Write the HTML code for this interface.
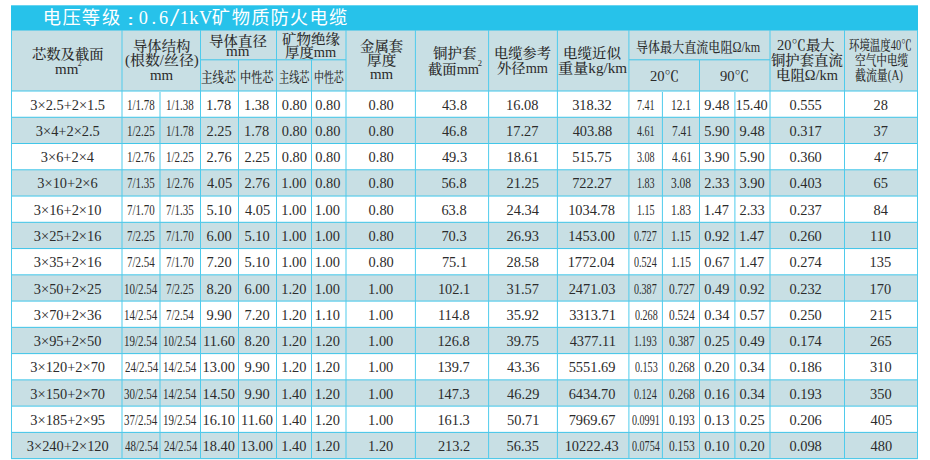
<!DOCTYPE html>
<html><head><meta charset="utf-8"><title>电压等级 0.6/1kV 矿物质防火电缆</title><style>
html,body{margin:0;padding:0;background:#fff;}
body{width:930px;height:460px;overflow:hidden;position:relative;}
.a{position:absolute;}
.p{position:absolute;white-space:nowrap;color:#2b2b2b;transform-origin:0 0;}
</style></head><body>
<div class="a" style="left:11.00px;top:5.00px;width:907.00px;height:1.00px;background:rgba(39,194,234,0.70)"></div>
<div class="a" style="left:11.00px;top:6.00px;width:907.00px;height:24.00px;background:#27c2ea"></div>
<div class="a" style="left:11.00px;top:30.00px;width:907.00px;height:1.00px;background:#77cfe6"></div>
<div class="a" style="left:11.00px;top:31.00px;width:907.00px;height:60.00px;background:#c8dfe4"></div>
<div class="a" style="left:11.00px;top:117.00px;width:907.00px;height:27.00px;background:#c8dfe4"></div>
<div class="a" style="left:11.00px;top:170.00px;width:907.00px;height:26.00px;background:#c8dfe4"></div>
<div class="a" style="left:11.00px;top:222.00px;width:907.00px;height:27.00px;background:#c8dfe4"></div>
<div class="a" style="left:11.00px;top:275.00px;width:907.00px;height:26.00px;background:#c8dfe4"></div>
<div class="a" style="left:11.00px;top:327.00px;width:907.00px;height:27.00px;background:#c8dfe4"></div>
<div class="a" style="left:11.00px;top:380.00px;width:907.00px;height:26.00px;background:#c8dfe4"></div>
<div class="a" style="left:11.00px;top:432.00px;width:907.00px;height:27.00px;background:#c8dfe4"></div>
<div class="a" style="left:11.00px;top:90.00px;width:907.00px;height:1.00px;background:rgba(63,197,233,0.50)"></div>
<div class="a" style="left:11.00px;top:91.00px;width:907.00px;height:1.00px;background:rgba(63,197,233,0.50)"></div>
<div class="a" style="left:11.00px;top:116.00px;width:907.00px;height:1.00px;background:rgba(63,197,233,0.24)"></div>
<div class="a" style="left:11.00px;top:117.00px;width:907.00px;height:1.00px;background:rgba(63,197,233,0.76)"></div>
<div class="a" style="left:11.00px;top:143.00px;width:907.00px;height:1.00px;background:rgba(63,197,233,0.98)"></div>
<div class="a" style="left:11.00px;top:169.00px;width:907.00px;height:1.00px;background:rgba(63,197,233,0.72)"></div>
<div class="a" style="left:11.00px;top:170.00px;width:907.00px;height:1.00px;background:rgba(63,197,233,0.28)"></div>
<div class="a" style="left:11.00px;top:195.00px;width:907.00px;height:1.00px;background:rgba(63,197,233,0.46)"></div>
<div class="a" style="left:11.00px;top:196.00px;width:907.00px;height:1.00px;background:rgba(63,197,233,0.54)"></div>
<div class="a" style="left:11.00px;top:221.00px;width:907.00px;height:1.00px;background:rgba(63,197,233,0.20)"></div>
<div class="a" style="left:11.00px;top:222.00px;width:907.00px;height:1.00px;background:rgba(63,197,233,0.80)"></div>
<div class="a" style="left:11.00px;top:248.00px;width:907.00px;height:1.00px;background:rgba(63,197,233,0.94)"></div>
<div class="a" style="left:11.00px;top:249.00px;width:907.00px;height:1.00px;background:rgba(63,197,233,0.06)"></div>
<div class="a" style="left:11.00px;top:274.00px;width:907.00px;height:1.00px;background:rgba(63,197,233,0.68)"></div>
<div class="a" style="left:11.00px;top:275.00px;width:907.00px;height:1.00px;background:rgba(63,197,233,0.32)"></div>
<div class="a" style="left:11.00px;top:300.00px;width:907.00px;height:1.00px;background:rgba(63,197,233,0.42)"></div>
<div class="a" style="left:11.00px;top:301.00px;width:907.00px;height:1.00px;background:rgba(63,197,233,0.58)"></div>
<div class="a" style="left:11.00px;top:326.00px;width:907.00px;height:1.00px;background:rgba(63,197,233,0.16)"></div>
<div class="a" style="left:11.00px;top:327.00px;width:907.00px;height:1.00px;background:rgba(63,197,233,0.84)"></div>
<div class="a" style="left:11.00px;top:353.00px;width:907.00px;height:1.00px;background:rgba(63,197,233,0.90)"></div>
<div class="a" style="left:11.00px;top:354.00px;width:907.00px;height:1.00px;background:rgba(63,197,233,0.10)"></div>
<div class="a" style="left:11.00px;top:379.00px;width:907.00px;height:1.00px;background:rgba(63,197,233,0.64)"></div>
<div class="a" style="left:11.00px;top:380.00px;width:907.00px;height:1.00px;background:rgba(63,197,233,0.36)"></div>
<div class="a" style="left:11.00px;top:405.00px;width:907.00px;height:1.00px;background:rgba(63,197,233,0.38)"></div>
<div class="a" style="left:11.00px;top:406.00px;width:907.00px;height:1.00px;background:rgba(63,197,233,0.62)"></div>
<div class="a" style="left:11.00px;top:431.00px;width:907.00px;height:1.00px;background:rgba(63,197,233,0.12)"></div>
<div class="a" style="left:11.00px;top:432.00px;width:907.00px;height:1.00px;background:rgba(63,197,233,0.88)"></div>
<div class="a" style="left:11.00px;top:458.00px;width:907.00px;height:1.00px;background:rgba(63,197,233,0.86)"></div>
<div class="a" style="left:11.00px;top:459.00px;width:907.00px;height:1.00px;background:rgba(63,197,233,0.14)"></div>
<div class="a" style="left:200.50px;top:59.00px;width:145.50px;height:1.00px;background:rgba(63,197,233,0.70)"></div>
<div class="a" style="left:200.50px;top:60.00px;width:145.50px;height:1.00px;background:rgba(63,197,233,0.30)"></div>
<div class="a" style="left:628.90px;top:59.00px;width:141.10px;height:1.00px;background:rgba(63,197,233,0.70)"></div>
<div class="a" style="left:628.90px;top:60.00px;width:141.10px;height:1.00px;background:rgba(63,197,233,0.30)"></div>
<div class="a" style="left:11.00px;top:30.00px;width:1.00px;height:429.14px;background:rgba(79,203,236,1.00)"></div>
<div class="a" style="left:121.00px;top:30.00px;width:1.00px;height:429.14px;background:rgba(79,203,236,0.50)"></div>
<div class="a" style="left:122.00px;top:30.00px;width:1.00px;height:429.14px;background:rgba(79,203,236,0.50)"></div>
<div class="a" style="left:159.00px;top:91.50px;width:1.00px;height:367.64px;background:rgba(79,203,236,0.50)"></div>
<div class="a" style="left:160.00px;top:91.50px;width:1.00px;height:367.64px;background:rgba(79,203,236,0.50)"></div>
<div class="a" style="left:200.00px;top:30.00px;width:1.00px;height:429.14px;background:rgba(79,203,236,1.00)"></div>
<div class="a" style="left:238.00px;top:60.30px;width:1.00px;height:398.84px;background:rgba(79,203,236,1.00)"></div>
<div class="a" style="left:276.00px;top:30.00px;width:1.00px;height:429.14px;background:rgba(79,203,236,1.00)"></div>
<div class="a" style="left:311.00px;top:60.30px;width:1.00px;height:398.84px;background:rgba(79,203,236,1.00)"></div>
<div class="a" style="left:345.00px;top:30.00px;width:1.00px;height:429.14px;background:rgba(79,203,236,0.50)"></div>
<div class="a" style="left:346.00px;top:30.00px;width:1.00px;height:429.14px;background:rgba(79,203,236,0.50)"></div>
<div class="a" style="left:414.00px;top:30.00px;width:1.00px;height:429.14px;background:rgba(79,203,236,0.10)"></div>
<div class="a" style="left:415.00px;top:30.00px;width:1.00px;height:429.14px;background:rgba(79,203,236,0.90)"></div>
<div class="a" style="left:488.00px;top:30.00px;width:1.00px;height:429.14px;background:rgba(79,203,236,0.90)"></div>
<div class="a" style="left:489.00px;top:30.00px;width:1.00px;height:429.14px;background:rgba(79,203,236,0.10)"></div>
<div class="a" style="left:556.00px;top:30.00px;width:1.00px;height:429.14px;background:rgba(79,203,236,0.10)"></div>
<div class="a" style="left:557.00px;top:30.00px;width:1.00px;height:429.14px;background:rgba(79,203,236,0.90)"></div>
<div class="a" style="left:628.00px;top:30.00px;width:1.00px;height:429.14px;background:rgba(79,203,236,0.60)"></div>
<div class="a" style="left:629.00px;top:30.00px;width:1.00px;height:429.14px;background:rgba(79,203,236,0.40)"></div>
<div class="a" style="left:661.00px;top:91.50px;width:1.00px;height:367.64px;background:rgba(79,203,236,0.10)"></div>
<div class="a" style="left:662.00px;top:91.50px;width:1.00px;height:367.64px;background:rgba(79,203,236,0.90)"></div>
<div class="a" style="left:699.00px;top:60.30px;width:1.00px;height:398.84px;background:rgba(79,203,236,1.00)"></div>
<div class="a" style="left:734.00px;top:91.50px;width:1.00px;height:367.64px;background:rgba(79,203,236,0.60)"></div>
<div class="a" style="left:735.00px;top:91.50px;width:1.00px;height:367.64px;background:rgba(79,203,236,0.40)"></div>
<div class="a" style="left:769.00px;top:30.00px;width:1.00px;height:429.14px;background:rgba(79,203,236,0.50)"></div>
<div class="a" style="left:770.00px;top:30.00px;width:1.00px;height:429.14px;background:rgba(79,203,236,0.50)"></div>
<div class="a" style="left:844.00px;top:30.00px;width:1.00px;height:429.14px;background:rgba(79,203,236,1.00)"></div>
<div class="a" style="left:917.00px;top:30.00px;width:1.00px;height:429.14px;background:rgba(79,203,236,1.00)"></div>
<div class='p' style="left:42.85px;top:3px;font-family:'Noto Sans CJK SC',sans-serif;font-size:18.3px;line-height:27px;color:#fff">电</div>
<div class='p' style="left:62.55px;top:3px;font-family:'Noto Sans CJK SC',sans-serif;font-size:18.3px;line-height:27px;color:#fff">压</div>
<div class='p' style="left:81.85px;top:3px;font-family:'Noto Sans CJK SC',sans-serif;font-size:18.3px;line-height:27px;color:#fff">等</div>
<div class='p' style="left:101.95px;top:3px;font-family:'Noto Sans CJK SC',sans-serif;font-size:18.3px;line-height:27px;color:#fff">级</div>
<div class='p' style="left:138.85px;top:5px;font-family:'Liberation Serif',serif;font-size:18.3px;line-height:27px;color:#fff">0</div>
<div class='p' style="left:151.50px;top:5px;font-family:'Liberation Serif',serif;font-size:18.3px;line-height:27px;color:#fff">.</div>
<div class='p' style="left:159.10px;top:5px;font-family:'Liberation Serif',serif;font-size:18.3px;line-height:27px;color:#fff">6</div>
<div class='p' style="left:169.55px;top:0px;font-family:'Liberation Serif',serif;font-size:18.3px;line-height:27px;transform:scale(1.8200,1.3615);color:#fff">/</div>
<div class='p' style="left:179.85px;top:5px;font-family:'Liberation Serif',serif;font-size:18.3px;line-height:27px;color:#fff">1</div>
<div class='p' style="left:189.35px;top:5px;font-family:'Liberation Serif',serif;font-size:18.3px;line-height:27px;color:#fff">k</div>
<div class='p' style="left:199.10px;top:5px;font-family:'Liberation Serif',serif;font-size:18.3px;line-height:27px;color:#fff">V</div>
<div class='p' style="left:211.65px;top:3px;font-family:'Noto Sans CJK SC',sans-serif;font-size:18.3px;line-height:27px;color:#fff">矿</div>
<div class='p' style="left:231.65px;top:3px;font-family:'Noto Sans CJK SC',sans-serif;font-size:18.3px;line-height:27px;color:#fff">物</div>
<div class='p' style="left:251.25px;top:3px;font-family:'Noto Sans CJK SC',sans-serif;font-size:18.3px;line-height:27px;color:#fff">质</div>
<div class='p' style="left:270.40px;top:3px;font-family:'Noto Sans CJK SC',sans-serif;font-size:18.3px;line-height:27px;color:#fff">防</div>
<div class='p' style="left:289.70px;top:3px;font-family:'Noto Sans CJK SC',sans-serif;font-size:18.3px;line-height:27px;color:#fff">火</div>
<div class='p' style="left:309.50px;top:3px;font-family:'Noto Sans CJK SC',sans-serif;font-size:18.3px;line-height:27px;color:#fff">电</div>
<div class='p' style="left:329.10px;top:3px;font-family:'Noto Sans CJK SC',sans-serif;font-size:18.3px;line-height:27px;color:#fff">缆</div>
<div class='p' style="left:127.10px;top:10px;font-family:'Liberation Serif',serif;font-size:24px;line-height:30px;transform:scale(1.0667,0.6636);color:#fff">:</div>
<div class='p' style="left:31.75px;top:45px;font-family:'Liberation Serif','Noto Serif CJK SC',serif;font-size:14px;line-height:20px;font-weight:500;transform:scale(1.0221,1.0000)">芯数及截面</div>
<div class='p' style="left:54.60px;top:60px;font-family:'Liberation Serif','Noto Serif CJK SC',serif;font-size:14px;line-height:20px;font-weight:500;transform:scale(1.0700,1.0000)">mm</div>
<div class='p' style="left:133.35px;top:37px;font-family:'Liberation Serif','Noto Serif CJK SC',serif;font-size:14px;line-height:20px;font-weight:500;transform:scale(1.0241,1.0000)">导体结构</div>
<div class='p' style="left:124.65px;top:51px;font-family:'Liberation Serif','Noto Serif CJK SC',serif;font-size:14px;line-height:20px;font-weight:500;transform:scale(1.0662,1.0000)">(根数/丝径)</div>
<div class='p' style="left:150.15px;top:66px;font-family:'Liberation Serif','Noto Serif CJK SC',serif;font-size:14px;line-height:20px;font-weight:500;transform:scale(1.0650,1.0000)">mm</div>
<div class='p' style="left:208.85px;top:32px;font-family:'Liberation Serif','Noto Serif CJK SC',serif;font-size:14px;line-height:20px;font-weight:500;transform:scale(1.0352,1.0000)">导体直径</div>
<div class='p' style="left:225.85px;top:42px;font-family:'Liberation Serif','Noto Serif CJK SC',serif;font-size:14px;line-height:20px;font-weight:500;transform:scale(1.0750,1.0000)">mm</div>
<div class='p' style="left:282.00px;top:30px;font-family:'Liberation Serif','Noto Serif CJK SC',serif;font-size:14px;line-height:20px;font-weight:500;transform:scale(1.0370,1.0000)">矿物绝缘</div>
<div class='p' style="left:285.20px;top:43px;font-family:'Liberation Serif','Noto Serif CJK SC',serif;font-size:14px;line-height:20px;font-weight:500;transform:scale(1.0292,1.0000)">厚度mm</div>
<div class='p' style="left:200.95px;top:68px;font-family:'Liberation Serif','Noto Serif CJK SC',serif;font-size:14px;line-height:20px;font-weight:500;transform:scale(0.8275,1.0000)">主线芯</div>
<div class='p' style="left:239.90px;top:68px;font-family:'Liberation Serif','Noto Serif CJK SC',serif;font-size:14px;line-height:20px;font-weight:500;transform:scale(0.7950,1.0000)">中性芯</div>
<div class='p' style="left:278.60px;top:68px;font-family:'Liberation Serif','Noto Serif CJK SC',serif;font-size:14px;line-height:20px;font-weight:500;transform:scale(0.7250,1.0000)">主线芯</div>
<div class='p' style="left:314.05px;top:68px;font-family:'Liberation Serif','Noto Serif CJK SC',serif;font-size:14px;line-height:20px;font-weight:500;transform:scale(0.7075,1.0000)">中性芯</div>
<div class='p' style="left:359.95px;top:37px;font-family:'Liberation Serif','Noto Serif CJK SC',serif;font-size:14px;line-height:20px;font-weight:500;transform:scale(1.0275,1.0000)">金属套</div>
<div class='p' style="left:366.70px;top:51px;font-family:'Liberation Serif','Noto Serif CJK SC',serif;font-size:14px;line-height:20px;font-weight:500;transform:scale(1.0462,1.0000)">厚度</div>
<div class='p' style="left:369.95px;top:65px;font-family:'Liberation Serif','Noto Serif CJK SC',serif;font-size:14px;line-height:20px;font-weight:500;transform:scale(1.0650,1.0000)">mm</div>
<div class='p' style="left:432.75px;top:44px;font-family:'Liberation Serif','Noto Serif CJK SC',serif;font-size:14px;line-height:20px;font-weight:500;transform:scale(1.0325,1.0000)">铜护套</div>
<div class='p' style="left:427.55px;top:60px;font-family:'Liberation Serif','Noto Serif CJK SC',serif;font-size:14px;line-height:20px;font-weight:500;transform:scale(1.0229,1.0000)">截面mm</div>
<div class='p' style="left:493.85px;top:44px;font-family:'Liberation Serif','Noto Serif CJK SC',serif;font-size:14px;line-height:20px;font-weight:500;transform:scale(1.0170,1.0000)">电缆参考</div>
<div class='p' style="left:497.15px;top:59px;font-family:'Liberation Serif','Noto Serif CJK SC',serif;font-size:14px;line-height:20px;font-weight:500;transform:scale(1.0229,1.0000)">外径mm</div>
<div class='p' style="left:563.30px;top:44px;font-family:'Liberation Serif','Noto Serif CJK SC',serif;font-size:14px;line-height:20px;font-weight:500;transform:scale(1.0340,1.0000)">电缆近似</div>
<div class='p' style="left:558.35px;top:59px;font-family:'Liberation Serif','Noto Serif CJK SC',serif;font-size:14px;line-height:20px;font-weight:500;transform:scale(1.0823,1.0000)">重量kg/km</div>
<div class='p' style="left:636.20px;top:38px;font-family:'Liberation Serif','Noto Serif CJK SC',serif;font-size:14px;line-height:20px;font-weight:500;transform:scale(0.8615,1.0000)">导体最大直流电阻Ω/km</div>
<div class='p' style="left:649.65px;top:67px;font-family:'Liberation Serif','Noto Serif CJK SC',serif;font-size:14px;line-height:20px;font-weight:500;transform:scale(1.0423,1.0000)">20℃</div>
<div class='p' style="left:720.05px;top:67px;font-family:'Liberation Serif','Noto Serif CJK SC',serif;font-size:14px;line-height:20px;font-weight:500;transform:scale(1.0423,1.0000)">90℃</div>
<div class='p' style="left:777.25px;top:36px;font-family:'Liberation Serif','Noto Serif CJK SC',serif;font-size:14px;line-height:20px;font-weight:500;transform:scale(1.0315,1.0000)">20℃最大</div>
<div class='p' style="left:770.50px;top:51px;font-family:'Liberation Serif','Noto Serif CJK SC',serif;font-size:14px;line-height:20px;font-weight:500;transform:scale(1.0265,1.0000)">铜护套直流</div>
<div class='p' style="left:775.60px;top:66px;font-family:'Liberation Serif','Noto Serif CJK SC',serif;font-size:14px;line-height:20px;font-weight:500;transform:scale(1.0276,1.0000)">电阻Ω/km</div>
<div class='p' style="left:849.15px;top:36px;font-family:'Liberation Serif','Noto Serif CJK SC',serif;font-size:14px;line-height:20px;font-weight:500;transform:scale(0.7451,1.0000)">环境温度40℃</div>
<div class='p' style="left:854.55px;top:51px;font-family:'Liberation Serif','Noto Serif CJK SC',serif;font-size:14px;line-height:20px;font-weight:500;transform:scale(0.7603,1.0000)">空气中电缆</div>
<div class='p' style="left:855.20px;top:66px;font-family:'Liberation Serif','Noto Serif CJK SC',serif;font-size:14px;line-height:20px;font-weight:500;transform:scale(0.7800,1.0000)">截流量(A)</div>
<div class='p' style="left:77.75px;top:59px;font-family:'Liberation Serif',serif;font-size:8px;line-height:10px">2</div>
<div class='p' style="left:477.65px;top:58px;font-family:'Liberation Serif',serif;font-size:8.5px;line-height:10px">2</div>
<div class='p' style="left:30.35px;top:95px;font-family:'Liberation Serif',serif;font-size:14.4px;line-height:20px">3×2.5+2×1.5</div>
<div class='p' style="left:126.50px;top:95px;font-family:'Liberation Serif',serif;font-size:14.4px;line-height:20px;transform:scale(0.7600,1.0000)">1/1.78</div>
<div class='p' style="left:165.75px;top:95px;font-family:'Liberation Serif',serif;font-size:14.4px;line-height:20px;transform:scale(0.7600,1.0000)">1/1.38</div>
<div class='p' style="left:206.00px;top:95px;font-family:'Liberation Serif',serif;font-size:14.4px;line-height:20px">1.78</div>
<div class='p' style="left:244.00px;top:95px;font-family:'Liberation Serif',serif;font-size:14.4px;line-height:20px">1.38</div>
<div class='p' style="left:281.80px;top:95px;font-family:'Liberation Serif',serif;font-size:14.4px;line-height:20px">0.80</div>
<div class='p' style="left:315.25px;top:95px;font-family:'Liberation Serif',serif;font-size:14.4px;line-height:20px">0.80</div>
<div class='p' style="left:368.60px;top:95px;font-family:'Liberation Serif',serif;font-size:14.4px;line-height:20px">0.80</div>
<div class='p' style="left:441.90px;top:95px;font-family:'Liberation Serif',serif;font-size:14.4px;line-height:20px">43.8</div>
<div class='p' style="left:506.00px;top:95px;font-family:'Liberation Serif',serif;font-size:14.4px;line-height:20px">16.08</div>
<div class='p' style="left:572.15px;top:95px;font-family:'Liberation Serif',serif;font-size:14.4px;line-height:20px">318.32</div>
<div class='p' style="left:636.65px;top:95px;font-family:'Liberation Serif',serif;font-size:14.4px;line-height:20px;transform:scale(0.7000,1.0000)">7.41</div>
<div class='p' style="left:671.35px;top:95px;font-family:'Liberation Serif',serif;font-size:14.4px;line-height:20px;transform:scale(0.7950,1.0000)">12.1</div>
<div class='p' style="left:704.20px;top:95px;font-family:'Liberation Serif',serif;font-size:14.4px;line-height:20px">9.48</div>
<div class='p' style="left:735.45px;top:95px;font-family:'Liberation Serif',serif;font-size:14.4px;line-height:20px">15.40</div>
<div class='p' style="left:789.45px;top:95px;font-family:'Liberation Serif',serif;font-size:14.4px;line-height:20px">0.555</div>
<div class='p' style="left:873.50px;top:95px;font-family:'Liberation Serif',serif;font-size:14.4px;line-height:20px">28</div>
<div class='p' style="left:35.85px;top:121px;font-family:'Liberation Serif',serif;font-size:14.4px;line-height:20px">3×4+2×2.5</div>
<div class='p' style="left:126.50px;top:121px;font-family:'Liberation Serif',serif;font-size:14.4px;line-height:20px;transform:scale(0.7600,1.0000)">1/2.25</div>
<div class='p' style="left:165.75px;top:121px;font-family:'Liberation Serif',serif;font-size:14.4px;line-height:20px;transform:scale(0.7600,1.0000)">1/1.78</div>
<div class='p' style="left:206.50px;top:121px;font-family:'Liberation Serif',serif;font-size:14.4px;line-height:20px">2.25</div>
<div class='p' style="left:244.00px;top:121px;font-family:'Liberation Serif',serif;font-size:14.4px;line-height:20px">1.78</div>
<div class='p' style="left:281.80px;top:121px;font-family:'Liberation Serif',serif;font-size:14.4px;line-height:20px">0.80</div>
<div class='p' style="left:315.25px;top:121px;font-family:'Liberation Serif',serif;font-size:14.4px;line-height:20px">0.80</div>
<div class='p' style="left:368.60px;top:121px;font-family:'Liberation Serif',serif;font-size:14.4px;line-height:20px">0.80</div>
<div class='p' style="left:441.90px;top:121px;font-family:'Liberation Serif',serif;font-size:14.4px;line-height:20px">46.8</div>
<div class='p' style="left:506.00px;top:121px;font-family:'Liberation Serif',serif;font-size:14.4px;line-height:20px">17.27</div>
<div class='p' style="left:572.65px;top:121px;font-family:'Liberation Serif',serif;font-size:14.4px;line-height:20px">403.88</div>
<div class='p' style="left:637.15px;top:121px;font-family:'Liberation Serif',serif;font-size:14.4px;line-height:20px;transform:scale(0.7000,1.0000)">4.61</div>
<div class='p' style="left:671.85px;top:121px;font-family:'Liberation Serif',serif;font-size:14.4px;line-height:20px;transform:scale(0.7950,1.0000)">7.41</div>
<div class='p' style="left:704.20px;top:121px;font-family:'Liberation Serif',serif;font-size:14.4px;line-height:20px">5.90</div>
<div class='p' style="left:739.45px;top:121px;font-family:'Liberation Serif',serif;font-size:14.4px;line-height:20px">9.48</div>
<div class='p' style="left:789.45px;top:121px;font-family:'Liberation Serif',serif;font-size:14.4px;line-height:20px">0.317</div>
<div class='p' style="left:873.50px;top:121px;font-family:'Liberation Serif',serif;font-size:14.4px;line-height:20px">37</div>
<div class='p' style="left:40.85px;top:147px;font-family:'Liberation Serif',serif;font-size:14.4px;line-height:20px">3×6+2×4</div>
<div class='p' style="left:126.50px;top:147px;font-family:'Liberation Serif',serif;font-size:14.4px;line-height:20px;transform:scale(0.7600,1.0000)">1/2.76</div>
<div class='p' style="left:165.75px;top:147px;font-family:'Liberation Serif',serif;font-size:14.4px;line-height:20px;transform:scale(0.7600,1.0000)">1/2.25</div>
<div class='p' style="left:206.50px;top:147px;font-family:'Liberation Serif',serif;font-size:14.4px;line-height:20px">2.76</div>
<div class='p' style="left:244.50px;top:147px;font-family:'Liberation Serif',serif;font-size:14.4px;line-height:20px">2.25</div>
<div class='p' style="left:281.80px;top:147px;font-family:'Liberation Serif',serif;font-size:14.4px;line-height:20px">0.80</div>
<div class='p' style="left:315.25px;top:147px;font-family:'Liberation Serif',serif;font-size:14.4px;line-height:20px">0.80</div>
<div class='p' style="left:368.60px;top:147px;font-family:'Liberation Serif',serif;font-size:14.4px;line-height:20px">0.80</div>
<div class='p' style="left:441.90px;top:147px;font-family:'Liberation Serif',serif;font-size:14.4px;line-height:20px">49.3</div>
<div class='p' style="left:506.50px;top:147px;font-family:'Liberation Serif',serif;font-size:14.4px;line-height:20px">18.61</div>
<div class='p' style="left:572.15px;top:147px;font-family:'Liberation Serif',serif;font-size:14.4px;line-height:20px">515.75</div>
<div class='p' style="left:636.65px;top:147px;font-family:'Liberation Serif',serif;font-size:14.4px;line-height:20px;transform:scale(0.7000,1.0000)">3.08</div>
<div class='p' style="left:672.35px;top:147px;font-family:'Liberation Serif',serif;font-size:14.4px;line-height:20px;transform:scale(0.7950,1.0000)">4.61</div>
<div class='p' style="left:704.20px;top:147px;font-family:'Liberation Serif',serif;font-size:14.4px;line-height:20px">3.90</div>
<div class='p' style="left:739.45px;top:147px;font-family:'Liberation Serif',serif;font-size:14.4px;line-height:20px">5.90</div>
<div class='p' style="left:789.45px;top:147px;font-family:'Liberation Serif',serif;font-size:14.4px;line-height:20px">0.360</div>
<div class='p' style="left:874.00px;top:147px;font-family:'Liberation Serif',serif;font-size:14.4px;line-height:20px">47</div>
<div class='p' style="left:37.35px;top:173px;font-family:'Liberation Serif',serif;font-size:14.4px;line-height:20px">3×10+2×6</div>
<div class='p' style="left:127.00px;top:173px;font-family:'Liberation Serif',serif;font-size:14.4px;line-height:20px;transform:scale(0.7600,1.0000)">7/1.35</div>
<div class='p' style="left:165.75px;top:173px;font-family:'Liberation Serif',serif;font-size:14.4px;line-height:20px;transform:scale(0.7600,1.0000)">1/2.76</div>
<div class='p' style="left:207.00px;top:173px;font-family:'Liberation Serif',serif;font-size:14.4px;line-height:20px">4.05</div>
<div class='p' style="left:244.50px;top:173px;font-family:'Liberation Serif',serif;font-size:14.4px;line-height:20px">2.76</div>
<div class='p' style="left:281.30px;top:173px;font-family:'Liberation Serif',serif;font-size:14.4px;line-height:20px">1.00</div>
<div class='p' style="left:315.25px;top:173px;font-family:'Liberation Serif',serif;font-size:14.4px;line-height:20px">0.80</div>
<div class='p' style="left:368.60px;top:173px;font-family:'Liberation Serif',serif;font-size:14.4px;line-height:20px">0.80</div>
<div class='p' style="left:441.40px;top:173px;font-family:'Liberation Serif',serif;font-size:14.4px;line-height:20px">56.8</div>
<div class='p' style="left:506.50px;top:173px;font-family:'Liberation Serif',serif;font-size:14.4px;line-height:20px">21.25</div>
<div class='p' style="left:572.15px;top:173px;font-family:'Liberation Serif',serif;font-size:14.4px;line-height:20px">722.27</div>
<div class='p' style="left:636.65px;top:173px;font-family:'Liberation Serif',serif;font-size:14.4px;line-height:20px;transform:scale(0.7000,1.0000)">1.83</div>
<div class='p' style="left:671.35px;top:173px;font-family:'Liberation Serif',serif;font-size:14.4px;line-height:20px;transform:scale(0.7950,1.0000)">3.08</div>
<div class='p' style="left:704.20px;top:173px;font-family:'Liberation Serif',serif;font-size:14.4px;line-height:20px">2.33</div>
<div class='p' style="left:739.45px;top:173px;font-family:'Liberation Serif',serif;font-size:14.4px;line-height:20px">3.90</div>
<div class='p' style="left:789.45px;top:173px;font-family:'Liberation Serif',serif;font-size:14.4px;line-height:20px">0.403</div>
<div class='p' style="left:873.50px;top:173px;font-family:'Liberation Serif',serif;font-size:14.4px;line-height:20px">65</div>
<div class='p' style="left:33.85px;top:200px;font-family:'Liberation Serif',serif;font-size:14.4px;line-height:20px">3×16+2×10</div>
<div class='p' style="left:127.00px;top:200px;font-family:'Liberation Serif',serif;font-size:14.4px;line-height:20px;transform:scale(0.7600,1.0000)">7/1.70</div>
<div class='p' style="left:166.25px;top:200px;font-family:'Liberation Serif',serif;font-size:14.4px;line-height:20px;transform:scale(0.7600,1.0000)">7/1.35</div>
<div class='p' style="left:206.50px;top:200px;font-family:'Liberation Serif',serif;font-size:14.4px;line-height:20px">5.10</div>
<div class='p' style="left:245.00px;top:200px;font-family:'Liberation Serif',serif;font-size:14.4px;line-height:20px">4.05</div>
<div class='p' style="left:281.30px;top:200px;font-family:'Liberation Serif',serif;font-size:14.4px;line-height:20px">1.00</div>
<div class='p' style="left:314.75px;top:200px;font-family:'Liberation Serif',serif;font-size:14.4px;line-height:20px">1.00</div>
<div class='p' style="left:368.60px;top:200px;font-family:'Liberation Serif',serif;font-size:14.4px;line-height:20px">0.80</div>
<div class='p' style="left:441.40px;top:200px;font-family:'Liberation Serif',serif;font-size:14.4px;line-height:20px">63.8</div>
<div class='p' style="left:506.50px;top:200px;font-family:'Liberation Serif',serif;font-size:14.4px;line-height:20px">24.34</div>
<div class='p' style="left:568.15px;top:200px;font-family:'Liberation Serif',serif;font-size:14.4px;line-height:20px">1034.78</div>
<div class='p' style="left:636.65px;top:200px;font-family:'Liberation Serif',serif;font-size:14.4px;line-height:20px;transform:scale(0.7000,1.0000)">1.15</div>
<div class='p' style="left:670.85px;top:200px;font-family:'Liberation Serif',serif;font-size:14.4px;line-height:20px;transform:scale(0.7950,1.0000)">1.83</div>
<div class='p' style="left:703.70px;top:200px;font-family:'Liberation Serif',serif;font-size:14.4px;line-height:20px">1.47</div>
<div class='p' style="left:739.45px;top:200px;font-family:'Liberation Serif',serif;font-size:14.4px;line-height:20px">2.33</div>
<div class='p' style="left:789.45px;top:200px;font-family:'Liberation Serif',serif;font-size:14.4px;line-height:20px">0.237</div>
<div class='p' style="left:873.50px;top:200px;font-family:'Liberation Serif',serif;font-size:14.4px;line-height:20px">84</div>
<div class='p' style="left:33.85px;top:226px;font-family:'Liberation Serif',serif;font-size:14.4px;line-height:20px">3×25+2×16</div>
<div class='p' style="left:127.00px;top:226px;font-family:'Liberation Serif',serif;font-size:14.4px;line-height:20px;transform:scale(0.7600,1.0000)">7/2.25</div>
<div class='p' style="left:166.25px;top:226px;font-family:'Liberation Serif',serif;font-size:14.4px;line-height:20px;transform:scale(0.7600,1.0000)">7/1.70</div>
<div class='p' style="left:206.50px;top:226px;font-family:'Liberation Serif',serif;font-size:14.4px;line-height:20px">6.00</div>
<div class='p' style="left:244.50px;top:226px;font-family:'Liberation Serif',serif;font-size:14.4px;line-height:20px">5.10</div>
<div class='p' style="left:281.30px;top:226px;font-family:'Liberation Serif',serif;font-size:14.4px;line-height:20px">1.00</div>
<div class='p' style="left:314.75px;top:226px;font-family:'Liberation Serif',serif;font-size:14.4px;line-height:20px">1.00</div>
<div class='p' style="left:368.60px;top:226px;font-family:'Liberation Serif',serif;font-size:14.4px;line-height:20px">0.80</div>
<div class='p' style="left:441.40px;top:226px;font-family:'Liberation Serif',serif;font-size:14.4px;line-height:20px">70.3</div>
<div class='p' style="left:506.50px;top:226px;font-family:'Liberation Serif',serif;font-size:14.4px;line-height:20px">26.93</div>
<div class='p' style="left:568.15px;top:226px;font-family:'Liberation Serif',serif;font-size:14.4px;line-height:20px">1453.00</div>
<div class='p' style="left:634.15px;top:226px;font-family:'Liberation Serif',serif;font-size:14.4px;line-height:20px;transform:scale(0.7000,1.0000)">0.727</div>
<div class='p' style="left:670.85px;top:226px;font-family:'Liberation Serif',serif;font-size:14.4px;line-height:20px;transform:scale(0.7950,1.0000)">1.15</div>
<div class='p' style="left:704.20px;top:226px;font-family:'Liberation Serif',serif;font-size:14.4px;line-height:20px">0.92</div>
<div class='p' style="left:738.95px;top:226px;font-family:'Liberation Serif',serif;font-size:14.4px;line-height:20px">1.47</div>
<div class='p' style="left:789.45px;top:226px;font-family:'Liberation Serif',serif;font-size:14.4px;line-height:20px">0.260</div>
<div class='p' style="left:870.00px;top:226px;font-family:'Liberation Serif',serif;font-size:14.4px;line-height:20px">110</div>
<div class='p' style="left:33.85px;top:252px;font-family:'Liberation Serif',serif;font-size:14.4px;line-height:20px">3×35+2×16</div>
<div class='p' style="left:126.50px;top:252px;font-family:'Liberation Serif',serif;font-size:14.4px;line-height:20px;transform:scale(0.7600,1.0000)">7/2.54</div>
<div class='p' style="left:166.25px;top:252px;font-family:'Liberation Serif',serif;font-size:14.4px;line-height:20px;transform:scale(0.7600,1.0000)">7/1.70</div>
<div class='p' style="left:206.50px;top:252px;font-family:'Liberation Serif',serif;font-size:14.4px;line-height:20px">7.20</div>
<div class='p' style="left:244.50px;top:252px;font-family:'Liberation Serif',serif;font-size:14.4px;line-height:20px">5.10</div>
<div class='p' style="left:281.30px;top:252px;font-family:'Liberation Serif',serif;font-size:14.4px;line-height:20px">1.00</div>
<div class='p' style="left:314.75px;top:252px;font-family:'Liberation Serif',serif;font-size:14.4px;line-height:20px">1.00</div>
<div class='p' style="left:368.60px;top:252px;font-family:'Liberation Serif',serif;font-size:14.4px;line-height:20px">0.80</div>
<div class='p' style="left:441.90px;top:252px;font-family:'Liberation Serif',serif;font-size:14.4px;line-height:20px">75.1</div>
<div class='p' style="left:506.50px;top:252px;font-family:'Liberation Serif',serif;font-size:14.4px;line-height:20px">28.58</div>
<div class='p' style="left:567.65px;top:252px;font-family:'Liberation Serif',serif;font-size:14.4px;line-height:20px">1772.04</div>
<div class='p' style="left:634.15px;top:252px;font-family:'Liberation Serif',serif;font-size:14.4px;line-height:20px;transform:scale(0.7000,1.0000)">0.524</div>
<div class='p' style="left:670.85px;top:252px;font-family:'Liberation Serif',serif;font-size:14.4px;line-height:20px;transform:scale(0.7950,1.0000)">1.15</div>
<div class='p' style="left:704.20px;top:252px;font-family:'Liberation Serif',serif;font-size:14.4px;line-height:20px">0.67</div>
<div class='p' style="left:738.95px;top:252px;font-family:'Liberation Serif',serif;font-size:14.4px;line-height:20px">1.47</div>
<div class='p' style="left:789.45px;top:252px;font-family:'Liberation Serif',serif;font-size:14.4px;line-height:20px">0.274</div>
<div class='p' style="left:869.50px;top:252px;font-family:'Liberation Serif',serif;font-size:14.4px;line-height:20px">135</div>
<div class='p' style="left:33.85px;top:279px;font-family:'Liberation Serif',serif;font-size:14.4px;line-height:20px">3×50+2×25</div>
<div class='p' style="left:123.50px;top:279px;font-family:'Liberation Serif',serif;font-size:14.4px;line-height:20px;transform:scale(0.7600,1.0000)">10/2.54</div>
<div class='p' style="left:166.25px;top:279px;font-family:'Liberation Serif',serif;font-size:14.4px;line-height:20px;transform:scale(0.7600,1.0000)">7/2.25</div>
<div class='p' style="left:206.50px;top:279px;font-family:'Liberation Serif',serif;font-size:14.4px;line-height:20px">8.20</div>
<div class='p' style="left:244.50px;top:279px;font-family:'Liberation Serif',serif;font-size:14.4px;line-height:20px">6.00</div>
<div class='p' style="left:281.30px;top:279px;font-family:'Liberation Serif',serif;font-size:14.4px;line-height:20px">1.20</div>
<div class='p' style="left:314.75px;top:279px;font-family:'Liberation Serif',serif;font-size:14.4px;line-height:20px">1.00</div>
<div class='p' style="left:368.10px;top:279px;font-family:'Liberation Serif',serif;font-size:14.4px;line-height:20px">1.00</div>
<div class='p' style="left:437.90px;top:279px;font-family:'Liberation Serif',serif;font-size:14.4px;line-height:20px">102.1</div>
<div class='p' style="left:506.50px;top:279px;font-family:'Liberation Serif',serif;font-size:14.4px;line-height:20px">31.57</div>
<div class='p' style="left:568.65px;top:279px;font-family:'Liberation Serif',serif;font-size:14.4px;line-height:20px">2471.03</div>
<div class='p' style="left:634.15px;top:279px;font-family:'Liberation Serif',serif;font-size:14.4px;line-height:20px;transform:scale(0.7000,1.0000)">0.387</div>
<div class='p' style="left:669.35px;top:279px;font-family:'Liberation Serif',serif;font-size:14.4px;line-height:20px;transform:scale(0.7950,1.0000)">0.727</div>
<div class='p' style="left:704.20px;top:279px;font-family:'Liberation Serif',serif;font-size:14.4px;line-height:20px">0.49</div>
<div class='p' style="left:739.45px;top:279px;font-family:'Liberation Serif',serif;font-size:14.4px;line-height:20px">0.92</div>
<div class='p' style="left:789.45px;top:279px;font-family:'Liberation Serif',serif;font-size:14.4px;line-height:20px">0.232</div>
<div class='p' style="left:869.50px;top:279px;font-family:'Liberation Serif',serif;font-size:14.4px;line-height:20px">170</div>
<div class='p' style="left:33.85px;top:305px;font-family:'Liberation Serif',serif;font-size:14.4px;line-height:20px">3×70+2×36</div>
<div class='p' style="left:123.50px;top:305px;font-family:'Liberation Serif',serif;font-size:14.4px;line-height:20px;transform:scale(0.7600,1.0000)">14/2.54</div>
<div class='p' style="left:165.75px;top:305px;font-family:'Liberation Serif',serif;font-size:14.4px;line-height:20px;transform:scale(0.7600,1.0000)">7/2.54</div>
<div class='p' style="left:206.50px;top:305px;font-family:'Liberation Serif',serif;font-size:14.4px;line-height:20px">9.90</div>
<div class='p' style="left:244.50px;top:305px;font-family:'Liberation Serif',serif;font-size:14.4px;line-height:20px">7.20</div>
<div class='p' style="left:281.30px;top:305px;font-family:'Liberation Serif',serif;font-size:14.4px;line-height:20px">1.20</div>
<div class='p' style="left:314.75px;top:305px;font-family:'Liberation Serif',serif;font-size:14.4px;line-height:20px">1.10</div>
<div class='p' style="left:368.10px;top:305px;font-family:'Liberation Serif',serif;font-size:14.4px;line-height:20px">1.00</div>
<div class='p' style="left:437.90px;top:305px;font-family:'Liberation Serif',serif;font-size:14.4px;line-height:20px">114.8</div>
<div class='p' style="left:506.50px;top:305px;font-family:'Liberation Serif',serif;font-size:14.4px;line-height:20px">35.92</div>
<div class='p' style="left:569.15px;top:305px;font-family:'Liberation Serif',serif;font-size:14.4px;line-height:20px">3313.71</div>
<div class='p' style="left:634.65px;top:305px;font-family:'Liberation Serif',serif;font-size:14.4px;line-height:20px;transform:scale(0.7000,1.0000)">0.268</div>
<div class='p' style="left:668.85px;top:305px;font-family:'Liberation Serif',serif;font-size:14.4px;line-height:20px;transform:scale(0.7950,1.0000)">0.524</div>
<div class='p' style="left:704.20px;top:305px;font-family:'Liberation Serif',serif;font-size:14.4px;line-height:20px">0.34</div>
<div class='p' style="left:739.45px;top:305px;font-family:'Liberation Serif',serif;font-size:14.4px;line-height:20px">0.57</div>
<div class='p' style="left:789.45px;top:305px;font-family:'Liberation Serif',serif;font-size:14.4px;line-height:20px">0.250</div>
<div class='p' style="left:870.00px;top:305px;font-family:'Liberation Serif',serif;font-size:14.4px;line-height:20px">215</div>
<div class='p' style="left:33.85px;top:331px;font-family:'Liberation Serif',serif;font-size:14.4px;line-height:20px">3×95+2×50</div>
<div class='p' style="left:123.50px;top:331px;font-family:'Liberation Serif',serif;font-size:14.4px;line-height:20px;transform:scale(0.7600,1.0000)">19/2.54</div>
<div class='p' style="left:162.75px;top:331px;font-family:'Liberation Serif',serif;font-size:14.4px;line-height:20px;transform:scale(0.7600,1.0000)">10/2.54</div>
<div class='p' style="left:203.00px;top:331px;font-family:'Liberation Serif',serif;font-size:14.4px;line-height:20px">11.60</div>
<div class='p' style="left:244.50px;top:331px;font-family:'Liberation Serif',serif;font-size:14.4px;line-height:20px">8.20</div>
<div class='p' style="left:281.30px;top:331px;font-family:'Liberation Serif',serif;font-size:14.4px;line-height:20px">1.20</div>
<div class='p' style="left:314.75px;top:331px;font-family:'Liberation Serif',serif;font-size:14.4px;line-height:20px">1.20</div>
<div class='p' style="left:368.10px;top:331px;font-family:'Liberation Serif',serif;font-size:14.4px;line-height:20px">1.00</div>
<div class='p' style="left:437.40px;top:331px;font-family:'Liberation Serif',serif;font-size:14.4px;line-height:20px">126.8</div>
<div class='p' style="left:506.50px;top:331px;font-family:'Liberation Serif',serif;font-size:14.4px;line-height:20px">39.75</div>
<div class='p' style="left:569.65px;top:331px;font-family:'Liberation Serif',serif;font-size:14.4px;line-height:20px">4377.11</div>
<div class='p' style="left:634.15px;top:331px;font-family:'Liberation Serif',serif;font-size:14.4px;line-height:20px;transform:scale(0.7000,1.0000)">1.193</div>
<div class='p' style="left:669.35px;top:331px;font-family:'Liberation Serif',serif;font-size:14.4px;line-height:20px;transform:scale(0.7950,1.0000)">0.387</div>
<div class='p' style="left:704.20px;top:331px;font-family:'Liberation Serif',serif;font-size:14.4px;line-height:20px">0.25</div>
<div class='p' style="left:739.45px;top:331px;font-family:'Liberation Serif',serif;font-size:14.4px;line-height:20px">0.49</div>
<div class='p' style="left:789.45px;top:331px;font-family:'Liberation Serif',serif;font-size:14.4px;line-height:20px">0.174</div>
<div class='p' style="left:870.00px;top:331px;font-family:'Liberation Serif',serif;font-size:14.4px;line-height:20px">265</div>
<div class='p' style="left:30.35px;top:357px;font-family:'Liberation Serif',serif;font-size:14.4px;line-height:20px">3×120+2×70</div>
<div class='p' style="left:124.50px;top:357px;font-family:'Liberation Serif',serif;font-size:14.4px;line-height:20px;transform:scale(0.7600,1.0000)">24/2.54</div>
<div class='p' style="left:162.75px;top:357px;font-family:'Liberation Serif',serif;font-size:14.4px;line-height:20px;transform:scale(0.7600,1.0000)">14/2.54</div>
<div class='p' style="left:202.50px;top:357px;font-family:'Liberation Serif',serif;font-size:14.4px;line-height:20px">13.00</div>
<div class='p' style="left:244.50px;top:357px;font-family:'Liberation Serif',serif;font-size:14.4px;line-height:20px">9.90</div>
<div class='p' style="left:281.30px;top:357px;font-family:'Liberation Serif',serif;font-size:14.4px;line-height:20px">1.20</div>
<div class='p' style="left:314.75px;top:357px;font-family:'Liberation Serif',serif;font-size:14.4px;line-height:20px">1.20</div>
<div class='p' style="left:368.10px;top:357px;font-family:'Liberation Serif',serif;font-size:14.4px;line-height:20px">1.00</div>
<div class='p' style="left:437.40px;top:357px;font-family:'Liberation Serif',serif;font-size:14.4px;line-height:20px">139.7</div>
<div class='p' style="left:507.00px;top:357px;font-family:'Liberation Serif',serif;font-size:14.4px;line-height:20px">43.36</div>
<div class='p' style="left:568.65px;top:357px;font-family:'Liberation Serif',serif;font-size:14.4px;line-height:20px">5551.69</div>
<div class='p' style="left:634.65px;top:357px;font-family:'Liberation Serif',serif;font-size:14.4px;line-height:20px;transform:scale(0.7000,1.0000)">0.153</div>
<div class='p' style="left:669.35px;top:357px;font-family:'Liberation Serif',serif;font-size:14.4px;line-height:20px;transform:scale(0.7950,1.0000)">0.268</div>
<div class='p' style="left:704.20px;top:357px;font-family:'Liberation Serif',serif;font-size:14.4px;line-height:20px">0.20</div>
<div class='p' style="left:739.45px;top:357px;font-family:'Liberation Serif',serif;font-size:14.4px;line-height:20px">0.34</div>
<div class='p' style="left:789.45px;top:357px;font-family:'Liberation Serif',serif;font-size:14.4px;line-height:20px">0.186</div>
<div class='p' style="left:870.00px;top:357px;font-family:'Liberation Serif',serif;font-size:14.4px;line-height:20px">310</div>
<div class='p' style="left:30.35px;top:384px;font-family:'Liberation Serif',serif;font-size:14.4px;line-height:20px">3×150+2×70</div>
<div class='p' style="left:124.00px;top:384px;font-family:'Liberation Serif',serif;font-size:14.4px;line-height:20px;transform:scale(0.7600,1.0000)">30/2.54</div>
<div class='p' style="left:162.75px;top:384px;font-family:'Liberation Serif',serif;font-size:14.4px;line-height:20px;transform:scale(0.7600,1.0000)">14/2.54</div>
<div class='p' style="left:202.50px;top:384px;font-family:'Liberation Serif',serif;font-size:14.4px;line-height:20px">14.50</div>
<div class='p' style="left:244.50px;top:384px;font-family:'Liberation Serif',serif;font-size:14.4px;line-height:20px">9.90</div>
<div class='p' style="left:281.30px;top:384px;font-family:'Liberation Serif',serif;font-size:14.4px;line-height:20px">1.40</div>
<div class='p' style="left:314.75px;top:384px;font-family:'Liberation Serif',serif;font-size:14.4px;line-height:20px">1.20</div>
<div class='p' style="left:368.10px;top:384px;font-family:'Liberation Serif',serif;font-size:14.4px;line-height:20px">1.00</div>
<div class='p' style="left:437.40px;top:384px;font-family:'Liberation Serif',serif;font-size:14.4px;line-height:20px">147.3</div>
<div class='p' style="left:507.00px;top:384px;font-family:'Liberation Serif',serif;font-size:14.4px;line-height:20px">46.29</div>
<div class='p' style="left:568.65px;top:384px;font-family:'Liberation Serif',serif;font-size:14.4px;line-height:20px">6434.70</div>
<div class='p' style="left:634.15px;top:384px;font-family:'Liberation Serif',serif;font-size:14.4px;line-height:20px;transform:scale(0.7000,1.0000)">0.124</div>
<div class='p' style="left:669.35px;top:384px;font-family:'Liberation Serif',serif;font-size:14.4px;line-height:20px;transform:scale(0.7950,1.0000)">0.268</div>
<div class='p' style="left:704.20px;top:384px;font-family:'Liberation Serif',serif;font-size:14.4px;line-height:20px">0.16</div>
<div class='p' style="left:739.45px;top:384px;font-family:'Liberation Serif',serif;font-size:14.4px;line-height:20px">0.34</div>
<div class='p' style="left:789.45px;top:384px;font-family:'Liberation Serif',serif;font-size:14.4px;line-height:20px">0.193</div>
<div class='p' style="left:870.00px;top:384px;font-family:'Liberation Serif',serif;font-size:14.4px;line-height:20px">350</div>
<div class='p' style="left:30.35px;top:410px;font-family:'Liberation Serif',serif;font-size:14.4px;line-height:20px">3×185+2×95</div>
<div class='p' style="left:124.00px;top:410px;font-family:'Liberation Serif',serif;font-size:14.4px;line-height:20px;transform:scale(0.7600,1.0000)">37/2.54</div>
<div class='p' style="left:162.75px;top:410px;font-family:'Liberation Serif',serif;font-size:14.4px;line-height:20px;transform:scale(0.7600,1.0000)">19/2.54</div>
<div class='p' style="left:202.50px;top:410px;font-family:'Liberation Serif',serif;font-size:14.4px;line-height:20px">16.10</div>
<div class='p' style="left:241.00px;top:410px;font-family:'Liberation Serif',serif;font-size:14.4px;line-height:20px">11.60</div>
<div class='p' style="left:281.30px;top:410px;font-family:'Liberation Serif',serif;font-size:14.4px;line-height:20px">1.40</div>
<div class='p' style="left:314.75px;top:410px;font-family:'Liberation Serif',serif;font-size:14.4px;line-height:20px">1.20</div>
<div class='p' style="left:368.10px;top:410px;font-family:'Liberation Serif',serif;font-size:14.4px;line-height:20px">1.00</div>
<div class='p' style="left:437.40px;top:410px;font-family:'Liberation Serif',serif;font-size:14.4px;line-height:20px">161.3</div>
<div class='p' style="left:507.00px;top:410px;font-family:'Liberation Serif',serif;font-size:14.4px;line-height:20px">50.71</div>
<div class='p' style="left:568.65px;top:410px;font-family:'Liberation Serif',serif;font-size:14.4px;line-height:20px">7969.67</div>
<div class='p' style="left:632.15px;top:410px;font-family:'Liberation Serif',serif;font-size:14.4px;line-height:20px;transform:scale(0.7000,1.0000)">0.0991</div>
<div class='p' style="left:669.35px;top:410px;font-family:'Liberation Serif',serif;font-size:14.4px;line-height:20px;transform:scale(0.7950,1.0000)">0.193</div>
<div class='p' style="left:704.20px;top:410px;font-family:'Liberation Serif',serif;font-size:14.4px;line-height:20px">0.13</div>
<div class='p' style="left:739.45px;top:410px;font-family:'Liberation Serif',serif;font-size:14.4px;line-height:20px">0.25</div>
<div class='p' style="left:789.45px;top:410px;font-family:'Liberation Serif',serif;font-size:14.4px;line-height:20px">0.206</div>
<div class='p' style="left:870.50px;top:410px;font-family:'Liberation Serif',serif;font-size:14.4px;line-height:20px">405</div>
<div class='p' style="left:26.85px;top:436px;font-family:'Liberation Serif',serif;font-size:14.4px;line-height:20px">3×240+2×120</div>
<div class='p' style="left:124.50px;top:436px;font-family:'Liberation Serif',serif;font-size:14.4px;line-height:20px;transform:scale(0.7600,1.0000)">48/2.54</div>
<div class='p' style="left:163.75px;top:436px;font-family:'Liberation Serif',serif;font-size:14.4px;line-height:20px;transform:scale(0.7600,1.0000)">24/2.54</div>
<div class='p' style="left:202.50px;top:436px;font-family:'Liberation Serif',serif;font-size:14.4px;line-height:20px">18.40</div>
<div class='p' style="left:240.50px;top:436px;font-family:'Liberation Serif',serif;font-size:14.4px;line-height:20px">13.00</div>
<div class='p' style="left:281.30px;top:436px;font-family:'Liberation Serif',serif;font-size:14.4px;line-height:20px">1.40</div>
<div class='p' style="left:314.75px;top:436px;font-family:'Liberation Serif',serif;font-size:14.4px;line-height:20px">1.20</div>
<div class='p' style="left:368.10px;top:436px;font-family:'Liberation Serif',serif;font-size:14.4px;line-height:20px">1.20</div>
<div class='p' style="left:437.90px;top:436px;font-family:'Liberation Serif',serif;font-size:14.4px;line-height:20px">213.2</div>
<div class='p' style="left:506.50px;top:436px;font-family:'Liberation Serif',serif;font-size:14.4px;line-height:20px">56.35</div>
<div class='p' style="left:564.65px;top:436px;font-family:'Liberation Serif',serif;font-size:14.4px;line-height:20px">10222.43</div>
<div class='p' style="left:631.65px;top:436px;font-family:'Liberation Serif',serif;font-size:14.4px;line-height:20px;transform:scale(0.7000,1.0000)">0.0754</div>
<div class='p' style="left:669.35px;top:436px;font-family:'Liberation Serif',serif;font-size:14.4px;line-height:20px;transform:scale(0.7950,1.0000)">0.153</div>
<div class='p' style="left:704.20px;top:436px;font-family:'Liberation Serif',serif;font-size:14.4px;line-height:20px">0.10</div>
<div class='p' style="left:739.45px;top:436px;font-family:'Liberation Serif',serif;font-size:14.4px;line-height:20px">0.20</div>
<div class='p' style="left:789.45px;top:436px;font-family:'Liberation Serif',serif;font-size:14.4px;line-height:20px">0.098</div>
<div class='p' style="left:870.50px;top:436px;font-family:'Liberation Serif',serif;font-size:14.4px;line-height:20px">480</div>
</body></html>
